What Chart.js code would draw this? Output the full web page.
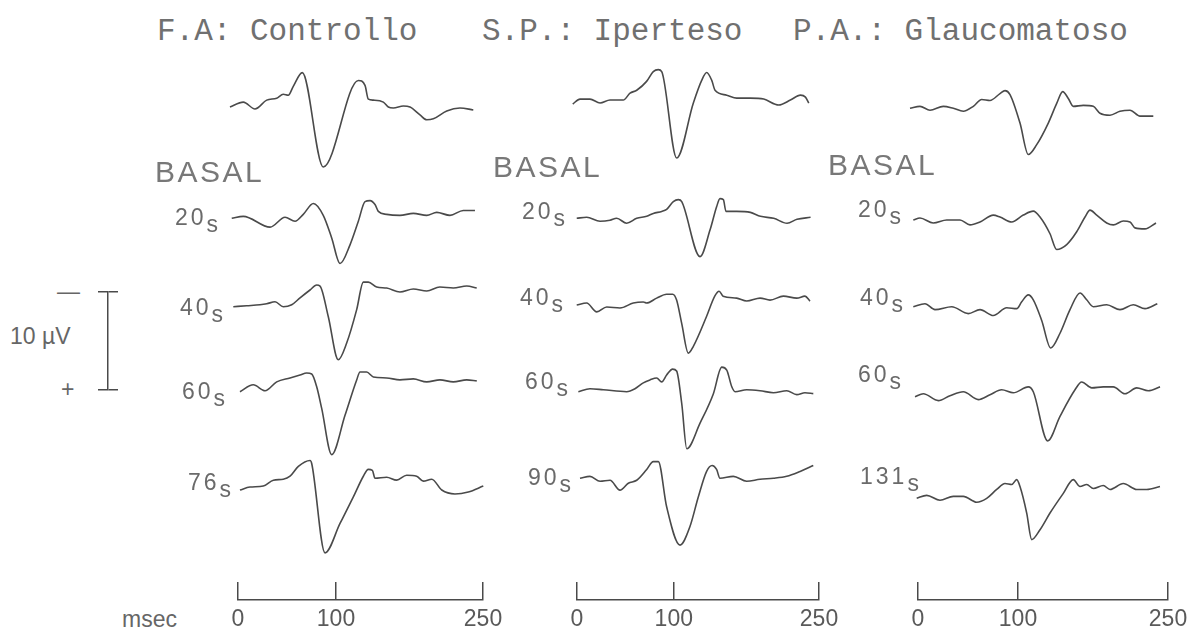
<!DOCTYPE html>
<html>
<head>
<meta charset="utf-8">
<title>PERG - pressione</title>
<script src="https://cdn.jsdelivr.net/npm/chart.js@4.4.1/dist/chart.umd.min.js"></script>
<style>
    html, body { margin: 0; padding: 0; background: #fff; }
    #page { position: relative; width: 1201px; height: 642px; overflow: hidden; background: #fff; }
    #page canvas { position: absolute; }
    .txt { position: absolute; white-space: nowrap; line-height: 1; color: #666; font-family: "Liberation Sans", Arial, sans-serif; }
    .title { font-family: "Liberation Mono", "Courier New", monospace; font-size: 31px; color: #707070; }
    .basal { font-size: 30px; letter-spacing: 2.5px; color: #787878; }
    .row { font-size: 23px; letter-spacing: 3px; color: #6a6a6a; }
    .row .sub { position: relative; top: 7px; }
    .unit { font-size: 23px; }
</style>
</head>
<body>
<div id="page"></div>
<script>
    // every trace is [msec, uV]; positive (P100) goes down as in the original
    var ctrlBasal = [[-8.2, 0], [5.4, -0.5], [17.3, 0.2], [29.3, -0.7], [39.5, -0.9], [46.2, -1.3], [51.3, -1.2], [56.4, -2.1], [65.6, -3.5], [87.0, 6.1], [122.8, -2.7], [129.6, -2.2], [133.0, -0.8], [138.1, -0.7], [148.3, -0.5], [153.4, 0.0], [158.5, 0.1], [168.7, -0.1], [175.5, 0.0], [185.7, 0.8], [192.6, 1.3], [199.3, 1.2], [213.0, 0.4], [226.5, 0.1], [240.1, 0.3]];
    var ctrl20 = [[-6.4, 0], [5.4, -0.2], [32.7, 0.9], [48.0, -0.1], [58.2, 0.3], [66.6, -0.4], [76.9, -1.5], [87.0, -0.3], [95.6, 2.0], [104.1, 4.6], [114.3, 2.7], [122.8, 0.3], [129.6, -1.7], [134.7, -1.8], [139.8, -1.4], [143.2, -0.7], [151.7, -0.4], [165.3, -0.3], [178.9, -0.5], [192.6, -0.3], [202.8, -0.6], [216.3, -0.3], [229.9, -0.8], [241.8, -0.8]];
    var ctrl40 = [[-4.8, 0], [8.9, -0.1], [22.4, -0.2], [29.3, -0.3], [37.8, -0.5], [46.2, 0.0], [54.8, -0.2], [63.3, -0.9], [73.5, -1.7], [80.3, -2.2], [83.7, -2.1], [92.1, 1.0], [102.3, 5.4], [110.9, 3.7], [121.1, 0.3], [127.9, -2.5], [133.0, -2.5], [141.5, -2.0], [151.7, -1.9], [165.3, -1.5], [178.9, -1.8], [192.6, -1.6], [205.9, -2.0], [219.7, -1.9], [233.4, -2.1], [243.6, -1.9]];
    var ctrl60 = [[2.0, 0], [15.6, -0.7], [27.6, -0.1], [39.5, -1.0], [53.1, -1.4], [63.3, -1.7], [70.1, -1.9], [75.2, -1.8], [80.3, -0.5], [85.4, 1.7], [95.6, 6.4], [109.2, 2.4], [121.1, -1.2], [124.5, -2.0], [131.3, -2.0], [138.1, -1.5], [151.7, -1.4], [165.3, -1.2], [178.9, -1.3], [192.6, -1.0], [206.1, -1.2], [219.7, -1.0], [233.4, -1.2], [243.6, -1.1]];
    var ctrl76 = [[2.0, 0], [12.2, -0.3], [25.8, -0.4], [36.1, -1.0], [46.2, -1.1], [53.1, -1.4], [61.6, -2.4], [73.5, -3.0], [75.2, -2.7], [88.8, 6.4], [104.1, 3.4], [117.7, 0.7], [127.9, -1.4], [133.0, -2.1], [137.1, -2.0], [139.8, -1.2], [151.7, -1.3], [161.9, -1.0], [172.1, -1.5], [182.3, -1.4], [189.1, -0.9], [197.7, -1.1], [207.9, 0.0], [221.4, 0.4], [235.0, 0.2], [250.3, -0.4]];

    var hypBasal = [[-4.4, 0], [3.1, -0.5], [13.4, -0.5], [23.8, -0.1], [34.1, -0.4], [47.8, -0.4], [54.8, -1.1], [61.7, -1.4], [71.9, -2.3], [78.8, -3.3], [84.0, -3.5], [87.5, -3.3], [103.0, 5.5], [120.2, -0.1], [128.8, -2.4], [134.0, -3.2], [139.2, -2.4], [142.6, -1.4], [154.7, -0.9], [165.0, -0.6], [179.1, -0.6], [192.9, -0.5], [208.4, 0.1], [220.4, -0.4], [230.8, -0.9], [236.0, -0.7], [239.4, -0.1]];
    var hyp20 = [[-0.3, 0], [10.0, -0.1], [23.8, 0.3], [34.1, 0.2], [41.0, 0.0], [51.3, 0.5], [61.7, 0.0], [72.0, -0.2], [78.8, -0.5], [87.5, -0.7], [92.6, -0.9], [99.5, -1.7], [104.7, -1.9], [108.2, -1.7], [127.1, 3.9], [137.4, 1.2], [144.3, -1.2], [147.7, -2.0], [151.2, -1.9], [153.9, -0.7], [164.9, -0.7], [179.1, -0.6], [189.5, -0.2], [203.2, 0.0], [217.0, 0.5], [227.3, 0.1], [241.3, -0.1]];
    var hyp40 = [[-0.3, 0], [10.0, -0.2], [20.4, 0.7], [30.7, 0.2], [44.4, 0.3], [58.2, -0.2], [68.5, -0.3], [72.0, -0.2], [82.3, -0.7], [92.6, -1.1], [98.8, -1.1], [102.9, -0.5], [108.2, 1.9], [115.0, 4.9], [120.2, 4.2], [133.7, 1.2], [142.3, -0.9], [146.8, -1.4], [150.9, -0.9], [164.9, -0.7], [175.3, -0.4], [189.1, -0.7], [199.4, -0.5], [213.2, -0.9], [227.0, -0.7], [235.5, -0.9], [240.7, -0.4]];
    var hyp60 = [[1.4, 0], [13.4, -0.3], [27.2, -0.2], [51.3, 0.0], [59.9, -0.3], [68.5, -0.9], [75.4, -1.2], [82.3, -1.4], [87.5, -1.0], [92.6, -1.7], [98.8, -2.3], [102.9, -2.1], [108.2, 1.2], [113.4, 5.8], [127.1, 3.2], [140.9, 0.2], [149.5, -2.5], [154.7, -2.2], [159.9, -0.5], [163.3, 0.0], [175.3, -0.2], [189.1, -0.1], [202.9, 0.1], [216.7, -0.1], [227.0, 0.3], [235.5, 0.1], [244.1, 0.2]];
    var hyp90 = [[3.1, 0], [13.4, -0.2], [23.8, 0.3], [34.1, 0.2], [44.4, 1.2], [53.0, 0.5], [61.7, 0.2], [72.0, -0.9], [78.8, -1.7], [84.0, -1.7], [92.6, 2.9], [106.4, 6.8], [116.7, 4.9], [125.3, 1.9], [133.9, -0.7], [139.6, -1.3], [144.2, -0.9], [147.7, 0.0], [161.5, -0.2], [175.3, 0.3], [189.1, 0.1], [202.9, 0.0], [216.7, -0.2], [230.5, -0.7], [244.1, -1.3]];

    var glauBasal = [[-8, 0], [2, -0.2], [12, 0.2], [25.3, -0.2], [35.3, 0], [45.3, 0.3], [55.3, -0.2], [63.7, -0.9], [72, -0.8], [82, -1.5], [87, -1.8], [92, -1.4], [102, 1.5], [110.3, 4.7], [118.7, 3.7], [130.3, 1.5], [138.7, -0.5], [144.7, -1.7], [150.3, -1.0], [155.3, -0.2], [165.3, -0.3], [175.3, -0.2], [182, 0.5], [192, 0.7], [202, 0.3], [212, 0.2], [222, 0.8], [235.3, 0.8]];
    var glau20 = [[-4.7, 0], [2, -0.2], [15.3, 0.3], [28.7, 0], [42, 0], [52, 0.5], [62, 0.2], [75.3, -0.5], [82, -0.3], [93.7, 0.2], [105.3, -0.5], [115.3, -0.9], [122, -0.3], [132, 1.4], [138.7, 3.0], [148.7, 2.5], [158.7, 1.2], [167, -0.3], [172, -1.0], [178.7, -0.5], [188.7, 0.3], [195.3, 0.5], [205.3, 0.1], [212, 0.2], [217, 0.8], [227, 0.9], [238, 0.3]];
    var glau40 = [[-4.7, 0], [7, -0.3], [17, 0.3], [33.7, 0], [50.3, 0.7], [62, 0.3], [75.3, 0.9], [88.7, 0.1], [98.7, 0.2], [103.7, -0.5], [110.3, -1.2], [115.3, -0.7], [123.7, 1.4], [132.7, 4.2], [142, 2.7], [152, 0.3], [162, -1.4], [168.7, -0.7], [175.3, 0], [188.7, -0.2], [202, 0.3], [215.3, -0.2], [227, 0.2], [239.3, -0.3]];
    var glau60 = [[-3, 0], [5.3, -0.3], [20.3, 0.4], [32, -0.1], [45.3, -0.5], [60.3, 0.3], [72, -0.2], [83.7, -0.7], [95.3, -0.4], [110.3, -1.0], [115.3, -0.5], [129.7, 4.5], [142, 2.0], [157, -0.7], [163.7, -1.5], [173.7, -0.9], [185.3, -1.0], [195.3, -1.0], [207, -0.3], [218.7, -0.9], [230.3, -0.6], [242, -1.0]];
    var glau131 = [[-1.3, 0], [8.7, -0.3], [22, 0.2], [35.3, -0.2], [45.3, -0.2], [58.7, 0.4], [68.7, 0], [78.7, -0.9], [87, -1.5], [93.7, -1.4], [98.7, -1.9], [102, -1.2], [108.7, 1.5], [113.7, 4.2], [122, 3.2], [132, 1.5], [145.3, -0.5], [155.3, -1.9], [162, -1.2], [168.7, -1.4], [175.3, -1.0], [185.3, -1.3], [192, -0.9], [205.3, -1.5], [218.7, -0.9], [228.7, -0.9], [242, -1.2]];

    var msecTicks = [0, 100, 250];
    var uvBarTicks = [0, 10];
    var columnTitles = ["F.A: Controllo", "S.P.: Iperteso", "P.A.: Glaucomatoso"];
    var ctrlLabels = ["20s", "40s", "60s", "76s"];
    var hypLabels = ["20s", "40s", "60s", "90s"];
    var glauLabels = ["20s", "40s", "60s", "131s"];

    var ink = "#4a4a4a";
    var pxPerUv = 9.83;
    var tMin = -15, tMax = 256;
    var vMin = -4.5, vMax = 7.5;

    // page layout of the three columns (pixel of 0 and 250 msec, row zero lines, text spots)
    var columns = [
        {
            px0: 238, px250: 483, traces: [ctrlBasal, ctrl20, ctrl40, ctrl60, ctrl76],
            rows: [107, 218.3, 306.7, 391.7, 490],
            title: [157, 16], basal: [155, 157], labels: ctrlLabels,
            labelPos: [[175, 205.5], [180, 295.5], [182, 379.5], [188, 470.5]]
        },
        {
            px0: 577, px250: 819, traces: [hypBasal, hyp20, hyp40, hyp60, hyp90],
            rows: [104, 218.3, 305, 391.7, 478.3],
            title: [482, 16], basal: [493, 152], labels: hypLabels,
            labelPos: [[522, 199.5], [520, 285.5], [525, 369.5], [528, 465.5]]
        },
        {
            px0: 918, px250: 1168, traces: [glauBasal, glau20, glau40, glau60, glau131],
            rows: [108.3, 220, 306.7, 396.7, 498.3],
            title: [793, 16], basal: [828, 150], labels: glauLabels,
            labelPos: [[858, 197.5], [860, 285.5], [858, 362.5], [860, 464.5]]
        }
    ];

    var page = document.getElementById("page");

    function makeCanvas(left, top, width, height) {
        var c = document.createElement("canvas");
        c.width = width;
        c.height = height;
        c.style.left = left + "px";
        c.style.top = top + "px";
        c.style.width = width + "px";
        c.style.height = height + "px";
        page.appendChild(c);
        return c;
    }

    function addText(html, cls, left, top) {
        var d = document.createElement("div");
        d.className = "txt " + cls;
        d.innerHTML = html;
        d.style.left = left + "px";
        d.style.top = top + "px";
        page.appendChild(d);
    }

    var baseOptions = {
        responsive: false,
        animation: false,
        devicePixelRatio: 1,
        events: [],
        plugins: { legend: { display: false }, tooltip: { enabled: false } }
    };

    function drawTrace(col, zeroY, points) {
        var k = (col.px250 - col.px0) / 250;
        var left = Math.round(col.px0 + tMin * k);
        var right = Math.round(col.px0 + tMax * k);
        var top = Math.round(zeroY + vMin * pxPerUv);
        var bottom = Math.round(zeroY + vMax * pxPerUv);
        var canvas = makeCanvas(left, top, right - left, bottom - top);

        new Chart(canvas, {
            type: "line",
            data: {
                datasets: [{
                    data: points.map(function (p) { return { x: p[0], y: p[1] }; }),
                    borderColor: ink,
                    borderWidth: 1.6,
                    pointRadius: 0,
                    cubicInterpolationMode: "monotone",
                    clip: false,
                    fill: false
                }]
            },
            options: Object.assign({}, baseOptions, {
                layout: { padding: 0 },
                scales: {
                    x: { type: "linear", display: false, min: (left - col.px0) / k, max: (right - col.px0) / k },
                    y: { type: "linear", display: false, reverse: true, min: (top - zeroY) / pxPerUv, max: (bottom - zeroY) / pxPerUv }
                }
            })
        });
    }

    // msec bracket under each column: 18px high, axis line at y=600, labels below
    function drawMsecAxis(col) {
        var canvas = makeCanvas(col.px0 - 30, 570, (col.px250 - col.px0) + 60, 70);
        new Chart(canvas, {
            type: "line",
            data: { datasets: [] },
            options: Object.assign({}, baseOptions, {
                layout: { padding: { left: 30, right: 30, top: 12, bottom: 0 } },
                scales: {
                    x: {
                        type: "linear", min: 0, max: 250,
                        afterBuildTicks: function (axis) {
                            axis.ticks = msecTicks.map(function (v) { return { value: v }; });
                        },
                        afterFit: function (axis) { axis.height = 40; },
                        grid: { color: ink, lineWidth: 1.5, drawTicks: false, drawOnChartArea: true },
                        border: { display: true, color: ink, width: 1.5 },
                        ticks: {
                            color: "#5a5a5a", padding: 6, maxRotation: 0, autoSkip: false,
                            font: { family: "'Liberation Sans', Arial, sans-serif", size: 23 }
                        }
                    },
                    y: { display: false, min: 0, max: 1 }
                }
            })
        });
    }

    // 10 uV calibration bar
    function drawUvBar() {
        var canvas = makeCanvas(90, 280, 40, 122);
        new Chart(canvas, {
            type: "line",
            data: { datasets: [] },
            options: Object.assign({}, baseOptions, {
                layout: { padding: { left: 8, right: 12, top: 12, bottom: 12 } },
                scales: {
                    x: { type: "linear", display: false, min: 0, max: 1 },
                    y: {
                        type: "linear", min: 0, max: 10,
                        afterBuildTicks: function (axis) {
                            axis.ticks = uvBarTicks.map(function (v) { return { value: v }; });
                        },
                        ticks: { display: false },
                        grid: { color: ink, lineWidth: 1.5, tickLength: 10, drawTicks: true, drawOnChartArea: true },
                        border: { display: true, color: ink, width: 1.5 }
                    }
                }
            })
        });
    }

    columns.forEach(function (col, i) {
        col.traces.forEach(function (tr, r) {
            drawTrace(col, col.rows[r], tr);
        });
        drawMsecAxis(col);

        addText(columnTitles[i], "title", col.title[0], col.title[1]);
        addText("BASAL", "basal", col.basal[0], col.basal[1]);
        col.labels.forEach(function (lab, r) {
            var num = lab.slice(0, -1);
            addText(num + '<span class="sub">s</span>', "row", col.labelPos[r][0], col.labelPos[r][1]);
        });
    });

    drawUvBar();
    addText("10 \u00b5V", "unit", 10, 325);
    addText("\u2014", "unit", 57, 280);
    addText("+", "unit", 61, 378);
    addText("msec", "unit", 122, 608);
</script>
</body>
</html>
